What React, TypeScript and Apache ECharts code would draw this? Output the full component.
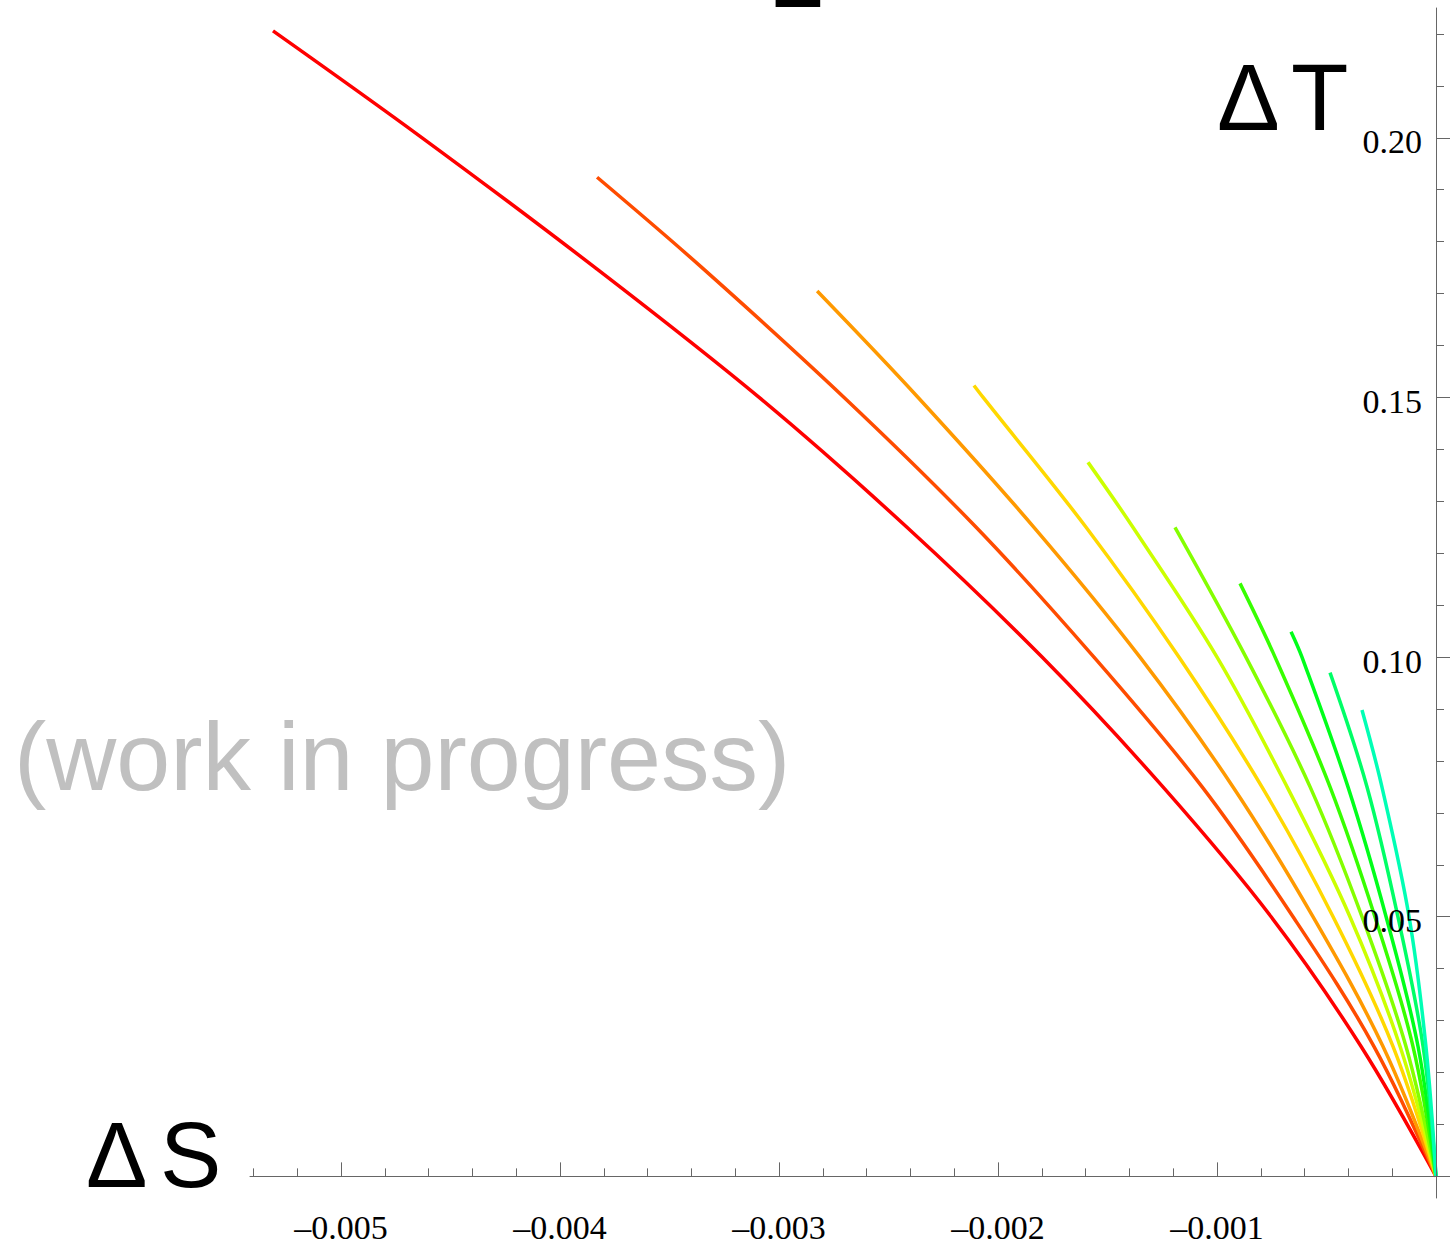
import React, { useEffect, useRef } from "react";
import * as echarts from "echarts";

// ΔT levels (y values) at which ΔS (x values) were read for each curve
const levels = [0, 0.025, 0.05, 0.075, 0.1, 0.125, 0.15, 0.175, 0.2];

// Each curve: x values at the levels above (as far as it reaches), then its end point
const curve1X = [0, -0.000342, -0.000753, -0.001247, -0.001799, -0.002416, -0.003091, -0.00384, -0.00463];
const curve1End = [-0.005311, 0.2206];
const curve2X = [0, -0.000283, -0.000653, -0.001068, -0.001562, -0.0021, -0.002703, -0.003352];
const curve2End = [-0.003831, 0.1924];
const curve3X = [0, -0.000242, -0.000562, -0.000927, -0.001352, -0.001836, -0.002365];
const curve3End = [-0.002826, 0.1705];
const curve4X = [0, -0.000196, -0.00047, -0.000795, -0.001174, -0.001598, -0.002068];
const curve4End = [-0.00211, 0.1523];
const curve5X = [0, -0.000164, -0.000393, -0.00068, -0.001, -0.001384];
const curve5End = [-0.001589, 0.1375];
const curve6X = [0, -0.000137, -0.000338, -0.000575, -0.000868];
const curve6End = [-0.001192, 0.125];
const curve7X = [0, -0.000105, -0.000279, -0.000484, -0.000735];
const curve7End = [-0.000895, 0.1142];
const curve8X = [0, -0.000082, -0.000228, -0.000402, -0.000612];
const curve8End = [-0.000662, 0.1049];
const curve9X = [0, -0.000059, -0.000174, -0.000315];
const curve9End = [-0.000484, 0.097];
const curve10X = [0, -0.000046, -0.000123, -0.000247];
const curve10End = [-0.000338, 0.0898];

const curveXs = [curve1X, curve2X, curve3X, curve4X, curve5X, curve6X, curve7X, curve8X, curve9X, curve10X];
const curveEnds = [curve1End, curve2End, curve3End, curve4End, curve5End, curve6End, curve7End, curve8End, curve9End, curve10End];
const curveColors = ["#ff0000", "#ff4c00", "#ff9900", "#ffd800", "#ccff00", "#84ff00", "#37ff00", "#00ff1a", "#00ff66", "#00ffb4"];

const xTicks = [-0.005, -0.004, -0.003, -0.002, -0.001];
const yTicks = [0.05, 0.1, 0.15, 0.2];

export default function App() {
  const ref = useRef<HTMLDivElement>(null);
  useEffect(() => {
    if (!ref.current) return;
    const chart = echarts.init(ref.current, null, { renderer: "svg" });
    const series = curveXs.map((xs, i) => {
      const data = xs.map((x, k) => [x, levels[k]]);
      data.push(curveEnds[i]);
      return {
        type: "line",
        data,
        smooth: 0.35,
        showSymbol: false,
        symbol: "none",
        lineStyle: { color: curveColors[i], width: 3.5 },
        itemStyle: { color: curveColors[i] },
        z: 2,
      };
    });
    const axisColor = "#666666";
    chart.setOption({
      animation: false,
      backgroundColor: "#ffffff",
      grid: { left: 250, right: 0, top: 8, bottom: 26 },
      xAxis: {
        type: "value",
        min: -0.005416,
        max: 0.0000639,
        splitNumber: 5,
        splitLine: { show: false },
        axisLine: { show: true, onZero: true, lineStyle: { color: axisColor, width: 1 } },
        axisTick: { show: true, inside: true, length: 14, customValues: [...xTicks, 0], lineStyle: { color: axisColor } },
        minorTick: { show: true, splitNumber: 5, length: 8, lineStyle: { color: axisColor } },
        axisLabel: {
          customValues: xTicks,
          margin: 12,
          color: "#000",
          fontFamily: "Liberation Serif",
          fontSize: 34,
          formatter: (v: number) => "\u2013" + Math.abs(v).toFixed(3),
        },
        z: 3,
      },
      yAxis: {
        type: "value",
        position: "right",
        offset: -14,
        min: -0.004167,
        max: 0.225,
        splitNumber: 5,
        splitLine: { show: false },
        axisLine: { show: true, onZero: false, lineStyle: { color: axisColor, width: 1 } },
        axisTick: { show: true, inside: false, length: 14, customValues: [0, ...yTicks], lineStyle: { color: axisColor } },
        minorTick: { show: true, splitNumber: 5, length: 8, lineStyle: { color: axisColor } },
        axisLabel: {
          customValues: yTicks,
          inside: true,
          margin: 14,
          color: "#000",
          fontFamily: "Liberation Serif",
          fontSize: 34,
          verticalAlign: "top",
          lineHeight: 8,
          formatter: (v: number) => v.toFixed(2),
        },
        z: 3,
      },
      graphic: [
        { type: "text", x: 798, y: -17, style: { text: "\u0394", fill: "#000", font: "bold 70px 'Liberation Sans'", align: "center", verticalAlign: "middle" } },
        { type: "text", x: 1217, y: 97, style: { text: "\u0394", fill: "#000", font: "94px 'Liberation Sans'", align: "left", verticalAlign: "middle" } },
        { type: "text", x: 1291, y: 97, style: { text: "T", fill: "#000", font: "94px 'Liberation Sans'", align: "left", verticalAlign: "middle" } },
        { type: "text", x: 86, y: 1155, style: { text: "\u0394", fill: "#000", font: "92px 'Liberation Sans'", align: "left", verticalAlign: "middle" } },
        { type: "text", x: 160, y: 1155, style: { text: "S", fill: "#000", font: "92px 'Liberation Sans'", align: "left", verticalAlign: "middle" } },
        { type: "text", x: 14, y: 756, style: { text: "(work in progress)", fill: "#c0c0c0", font: "97px 'Liberation Sans'", align: "left", verticalAlign: "middle" } },
      ],
      series,
    });
    return () => chart.dispose();
  }, []);
  return (
    <div
      ref={ref}
      style={{ position: "absolute", left: 0, top: 0, width: 1450, height: 1244, background: "#fff" }}
    />
  );
}
